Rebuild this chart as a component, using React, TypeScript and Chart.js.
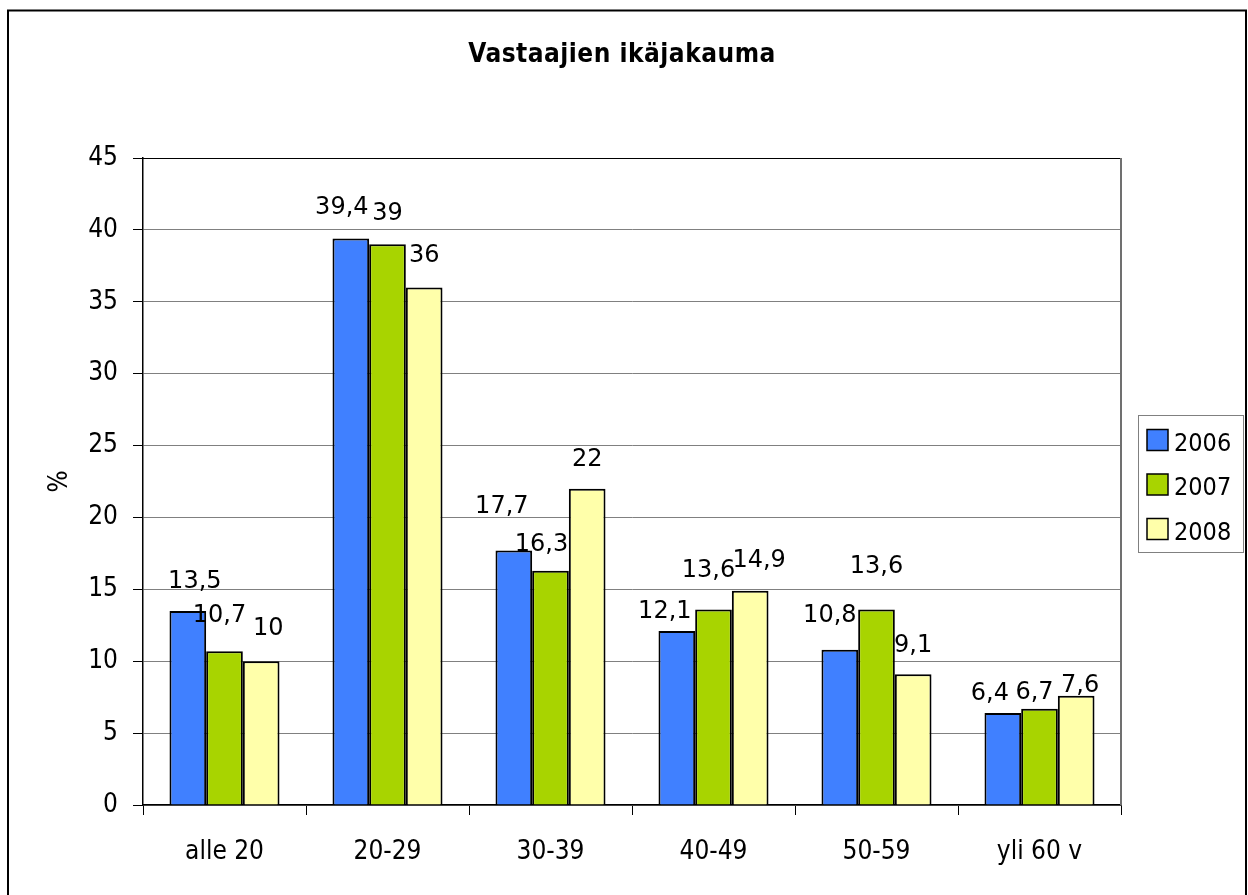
import React, { useEffect, useRef } from "react";
import { Chart, registerables } from "chart.js";

Chart.register(...registerables);

const categories = ["alle 20", "20-29", "30-39", "40-49", "50-59", "yli 60 v"];
const seriesNames = ["2006", "2007", "2008"];
const values2006 = [13.5, 39.4, 17.7, 12.1, 10.8, 6.4];
const values2007 = [10.7, 39, 16.3, 13.6, 13.6, 6.7];
const values2008 = [10, 36, 22, 14.9, 9.1, 7.6];
const yTicks = [0, 5, 10, 15, 20, 25, 30, 35, 40, 45];

const titleText = "Vastaajien ikäjakauma";
const yAxisTitle = "%";

const colors = ["#4080ff", "#a8d400", "#ffffaa"];
const FAMILY = '"DejaVu Sans Condensed", "DejaVu Sans", sans-serif';
const LABEL_FAMILY = '"DejaVu Sans", sans-serif';

// label layout adjustments (dx, dy) relative to default placement above the bar
const labelNudges = [
  [[7, 1], [-9, -1], [-12, -14], [-12, 11], [-10, -4], [-13, 11]],
  [[-5, -5], [0, 0], [-9, 4], [-5, -8], [0, -12], [-5, 14]],
  [[7, -2], [0, -1], [0, 1], [9, 0], [0, 2], [4, 20]],
];

const fmt = (v: number) => String(v).replace(".", ",");

const decorPlugin = {
  id: "decor",
  beforeDraw(chart: any) {
    const ctx = chart.ctx;
    ctx.save();
    ctx.fillStyle = "#ffffff";
    ctx.fillRect(0, 0, chart.width, chart.height);
    ctx.restore();
  },
  beforeDatasetsDraw(chart: any) {
    const { ctx, chartArea } = chart;
    ctx.save();
    ctx.strokeStyle = "#000000";
    ctx.lineWidth = 1;
    ctx.beginPath();
    ctx.moveTo(chartArea.left, Math.round(chartArea.top) + 0.5);
    ctx.lineTo(chartArea.right, Math.round(chartArea.top) + 0.5);
    ctx.stroke();
    ctx.strokeStyle = "#707070";
    ctx.lineWidth = 2;
    ctx.beginPath();
    ctx.moveTo(Math.round(chartArea.right), chartArea.top);
    ctx.lineTo(Math.round(chartArea.right), chartArea.bottom);
    ctx.stroke();
    ctx.restore();
  },
  afterDraw(chart: any) {
    const { ctx, chartArea } = chart;
    ctx.save();
    // outer frame
    ctx.strokeStyle = "#000000";
    ctx.lineWidth = 2;
    ctx.strokeRect(8, 10.5, 1238, 900);

    // title
    ctx.fillStyle = "#000000";
    ctx.font = `bold 26px ${FAMILY}`;
    ctx.textAlign = "center";
    ctx.textBaseline = "alphabetic";
    (ctx as any).letterSpacing = "0.5px";
    ctx.fillText(titleText, 622, 62);
    (ctx as any).letterSpacing = "0px";

    // y axis title
    ctx.save();
    ctx.translate(60, (chartArea.top + chartArea.bottom) / 2);
    ctx.rotate(-Math.PI / 2);
    ctx.font = `26px ${FAMILY}`;
    ctx.textAlign = "center";
    ctx.textBaseline = "middle";
    ctx.fillText(yAxisTitle, 0, 0);
    ctx.restore();

    // data labels
    ctx.font = `24px ${LABEL_FAMILY}`;
    ctx.textAlign = "center";
    ctx.textBaseline = "alphabetic";
    chart.data.datasets.forEach((ds: any, di: number) => {
      const meta = chart.getDatasetMeta(di);
      meta.data.forEach((bar: any, i: number) => {
        const [dx, dy] = labelNudges[di][i];
        ctx.fillText(fmt(ds.data[i]), bar.x + dx, bar.y - 24 + dy);
      });
    });

    // legend
    const lx = 1138.5, ly = 415.5, lw = 105, lh = 137;
    ctx.strokeStyle = "#808080";
    ctx.lineWidth = 1;
    ctx.strokeRect(lx, ly, lw, lh);
    ctx.font = `25px ${FAMILY}`;
    ctx.textAlign = "left";
    ctx.textBaseline = "alphabetic";
    seriesNames.forEach((name, i) => {
      const cy = 440 + i * 44.5;
      ctx.fillStyle = colors[i];
      ctx.fillRect(1147, cy - 10.5, 21, 21);
      ctx.strokeStyle = "#000000";
      ctx.lineWidth = 1.5;
      ctx.strokeRect(1147, cy - 10.5, 21, 21);
      ctx.fillStyle = "#000000";
      ctx.fillText(name, 1174, cy + 10.5);
    });
    ctx.restore();
  },
};

export default function App() {
  const ref = useRef<HTMLCanvasElement | null>(null);
  useEffect(() => {
    if (!ref.current) return;
    const allValues = [values2006, values2007, values2008];
    const chart = new Chart(ref.current, {
      type: "bar",
      data: {
        labels: categories,
        datasets: seriesNames.map((name, i) => ({
          label: name,
          data: allValues[i],
          backgroundColor: colors[i],
          borderColor: "#000000",
          borderWidth: 2,
          categoryPercentage: 0.675,
          barPercentage: 1,
        })),
      },
      options: {
        responsive: false,
        animation: false,
        devicePixelRatio: 1,
        layout: { padding: { top: 158, right: 127, bottom: 0, left: 0 } },
        plugins: {
          legend: { display: false },
          title: { display: false },
          tooltip: { enabled: false },
        },
        scales: {
          x: {
            afterFit: (s: any) => {
              s.height = 90;
            },
            grid: {
              drawOnChartArea: false,
              drawTicks: true,
              tickLength: 10,
              tickColor: "#000000",
              offset: true,
            },
            border: { display: true, color: "#000000", width: 1.5 },
            ticks: {
              color: "#000000",
              padding: 22,
              font: { family: FAMILY, size: 26 },
            },
          },
          y: {
            min: 0,
            max: 45,
            afterFit: (s: any) => {
              s.width = 143;
            },
            afterBuildTicks: (s: any) => {
              s.ticks = yTicks.map((v) => ({ value: v }));
            },
            grid: {
              color: "#808080",
              lineWidth: 1,
              drawTicks: true,
              tickLength: 10,
              tickColor: "#000000",
            },
            border: { display: true, color: "#000000", width: 1.5 },
            ticks: {
              color: "#000000",
              padding: 15,
              font: { family: FAMILY, size: 26 },
              callback: (v: any) => String(v),
            },
          },
        },
      },
      plugins: [decorPlugin],
    });
    return () => chart.destroy();
  }, []);
  return (
    <div style={{ position: "fixed", left: 0, top: 0, width: 1248, height: 895 }}>
      <canvas ref={ref} width={1248} height={895} style={{ display: "block" }} />
    </div>
  );
}
